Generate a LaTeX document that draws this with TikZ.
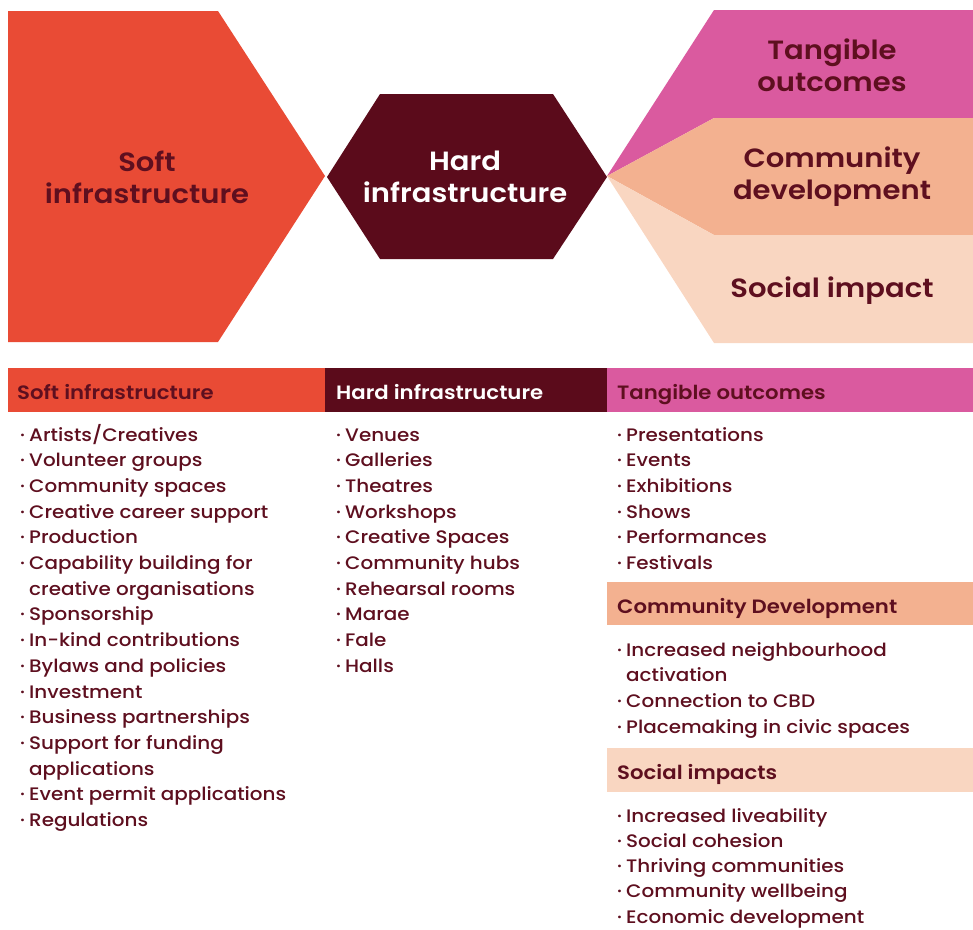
\documentclass[tikz,border=0pt]{standalone}
\usepackage{fontspec}
\setmainfont{Poppins}[FakeStretch=1.1, UprightFont={Poppins Medium}, BoldFont={Poppins SemiBold}]
\usetikzlibrary{positioning}

\definecolor{softred}{HTML}{E94B35}
\definecolor{wine}{HTML}{5B0B1B}
\definecolor{tangpink}{HTML}{DA5A9F}
\definecolor{commorange}{HTML}{F3B190}
\definecolor{socialpeach}{HTML}{F9D6C1}
\definecolor{inkwine}{HTML}{5E0F1F}

\newcommand\bl{\makebox[9pt][l]{·}}
\newcommand\nb{\hspace*{9pt}}

\tikzset{
  biglabel/.style={align=center, inner sep=0pt, text=inkwine,
    font=\fontsize{26.4}{32}\selectfont\bfseries},
  headlabel/.style={anchor=base west, inner sep=0pt, text=inkwine,
    font=\fontsize{19.3}{22}\selectfont\bfseries},
  itemlabel/.style={anchor=base west, inner sep=0pt, text=inkwine,
    font=\fontsize{18.1}{22}\selectfont},
}

\begin{document}
\begin{tikzpicture}[x=1pt,y=-1pt]
\useasboundingbox (0,0) rectangle (973,929);

% top row of shapes
\fill[softred]    (8,11) -- (218,11) -- (325,176) -- (218,342) -- (8,342) -- cycle;
\fill[wine]       (327,177) -- (380,94) -- (553,94) -- (607,177) -- (553,259) -- (380,259) -- cycle;
\fill[tangpink]   (607,176) -- (714,10) -- (973,10) -- (973,118) -- (714,118) -- cycle;
\fill[commorange] (607,176) -- (714,118) -- (973,118) -- (973,235) -- (714,235) -- cycle;
\fill[socialpeach](607,176) -- (714,235) -- (973,235) -- (973,343) -- (714,343) -- cycle;

\node[biglabel] (soft) at (147,177) {Soft\\infrastructure};
\node[biglabel, text=white] (hard) at (465,177) {Hard\\infrastructure};
\node[biglabel] (tangible) at (832,65) {Tangible\\outcomes};
\node[biglabel] (community) at (832,177) {Community\\development};
\node[biglabel, anchor=base] (social) at (832,297) {Social impact};

% header bars
\fill[softred]     (8,368) rectangle (325,412);
\fill[wine]        (325,368) rectangle (607,412);
\fill[tangpink]    (607,368) rectangle (973,412);
\fill[commorange]  (607,582) rectangle (973,625);
\fill[socialpeach] (607,748) rectangle (973,792);

\node[headlabel] (softhead) at (17,399) {Soft infrastructure};
\node[headlabel, text=white] (hardhead) at (336,399) {Hard infrastructure};
\node[headlabel] (tanghead) at (617,399) {Tangible outcomes};
\node[headlabel] (commhead) at (617,613) {Community Development};
\node[headlabel] (socialhead) at (617,779) {Social impacts};

% lists
\foreach \t [count=\i from 0] in {\bl Artists/Creatives, \bl Volunteer groups,
    \bl Community spaces, \bl Creative career support, \bl Production,
    \bl Capability building for, \nb creative organisations, \bl Sponsorship,
    \bl In-kind contributions, \bl Bylaws and policies, \bl Investment,
    \bl Business partnerships, \bl Support for funding, \nb applications,
    \bl Event permit applications, \bl Regulations}
  \node[itemlabel] (softitem\i) at (20,{441+25.7*\i}) {\t};

\foreach \t [count=\i from 0] in {Venues, Galleries, Theatres, Workshops,
    Creative Spaces, Community hubs, Rehearsal rooms, Marae, Fale, Halls}
  \node[itemlabel] (harditem\i) at (336,{441+25.7*\i}) {\bl\t};

\foreach \t [count=\i from 0] in {Presentations, Events, Exhibitions, Shows,
    Performances, Festivals}
  \node[itemlabel] (tangitem\i) at (617,{441+25.7*\i}) {\bl\t};

\foreach \t [count=\i from 0] in {\bl Increased neighbourhood, \nb activation,
    \bl Connection to CBD, \bl Placemaking in civic spaces}
  \node[itemlabel] (commitem\i) at (617,{656+25.7*\i}) {\t};

\foreach \t [count=\i from 0] in {Increased liveability, Social cohesion,
    Thriving communities, Community wellbeing, Economic development}
  \node[itemlabel] (socialitem\i) at (617,{822+25.3*\i}) {\bl\t};
\end{tikzpicture}
\end{document}
